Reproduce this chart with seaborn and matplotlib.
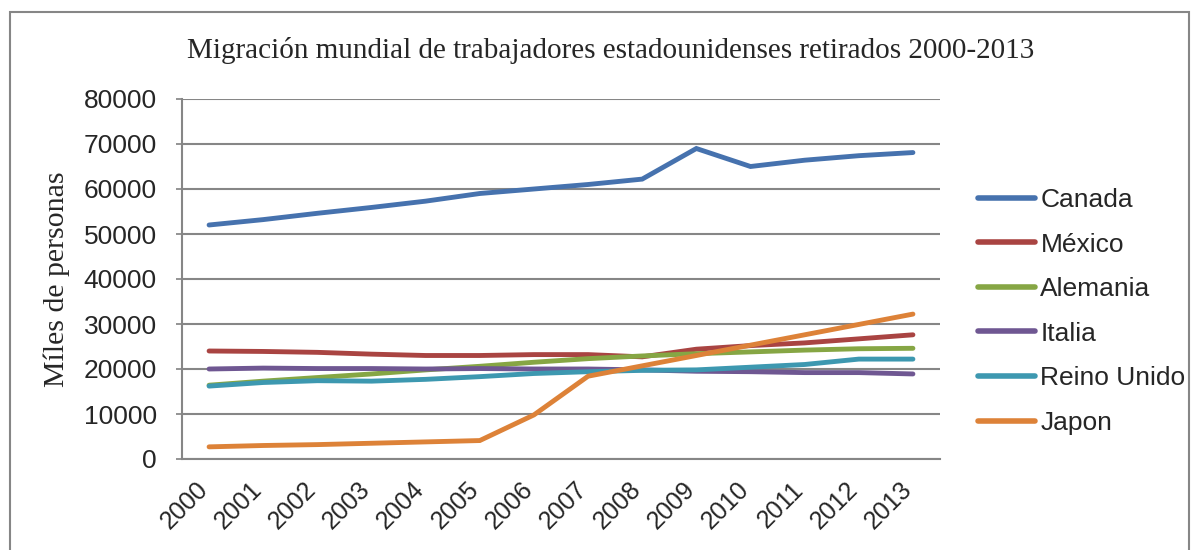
import matplotlib
matplotlib.use("Agg")
import matplotlib.pyplot as plt
import seaborn as sns
import pandas as pd
from matplotlib.patches import Rectangle

years = [2000, 2001, 2002, 2003, 2004, 2005, 2006, 2007, 2008, 2009, 2010, 2011, 2012, 2013]
canada = [52000, 53200, 54600, 55900, 57300, 59000, 60000, 61000, 62200, 69000, 65000, 66400, 67400, 68100]
mexico = [24000, 23900, 23700, 23300, 23000, 23000, 23200, 23200, 22700, 24400, 25200, 25800, 26700, 27600]
alemania = [16400, 17300, 18100, 18900, 19800, 20600, 21500, 22300, 22900, 23400, 23800, 24200, 24500, 24600]
italia = [20000, 20200, 20100, 20100, 20000, 20100, 20000, 20000, 19800, 19500, 19400, 19200, 19200, 18900]
reino_unido = [16200, 17000, 17400, 17300, 17700, 18300, 19000, 19400, 19700, 19800, 20400, 21000, 22200, 22200]
japon = [2700, 3000, 3200, 3500, 3800, 4100, 9800, 18400, 20700, 23000, 25300, 27600, 29900, 32200]

series_names = ["Canada", "México", "Alemania", "Italia", "Reino Unido", "Japon"]
series_values = [canada, mexico, alemania, italia, reino_unido, japon]
colors = ["#4672AE", "#A94442", "#86A644", "#6F5792", "#3D98B0", "#DD8238"]

rows = []
for name, vals in zip(series_names, series_values):
    for y, v in zip(years, vals):
        rows.append({"Año": y, "Valor": v, "País": name})
df = pd.DataFrame(rows)

sns.set_theme(style="white")
plt.rcParams["font.family"] = ["Liberation Sans", "DejaVu Sans"]

fig = plt.figure(figsize=(11.99, 5.5), dpi=100)
ax = fig.add_axes([182 / 1199, 91 / 550, (940 - 182) / 1199, (459 - 99) / 550])

sns.lineplot(data=df, x="Año", y="Valor", hue="País", hue_order=series_names,
             palette=colors, linewidth=3.5, ax=ax, sort=False)
for line in ax.get_lines():
    line.set_solid_capstyle("round")
    line.set_solid_joinstyle("miter")

ax.set_xlim(1999.5, 2013.5)
ax.set_ylim(0, 80000)
ax.set_yticks(range(0, 80001, 10000))
ax.set_xticks(years)
ax.set_xticklabels([str(y) for y in years], rotation=45, ha="right", va="baseline",
                   rotation_mode="anchor", fontsize=18)
ax.tick_params(axis="y", labelsize=19, pad=14, length=4, color="#868686", left=True)
ax.tick_params(axis="x", pad=23, length=0)
ax.grid(axis="y", color="#868686", linewidth=1.5)
ax.set_axisbelow(True)
for s in ["top", "right"]:
    ax.spines[s].set_visible(False)
for s in ["left", "bottom"]:
    ax.spines[s].set_color("#868686")
    ax.spines[s].set_linewidth(1.5)

ax.set_xlabel("")
ax.set_ylabel("Míles de personas", fontsize=21.5, family=["Liberation Serif", "DejaVu Serif"], labelpad=10)

fig.text(0.5096, 0.909, "Migración mundial de trabajadores estadounidenses retirados 2000-2013",
         ha="center", va="center", fontsize=21, family=["Liberation Serif", "DejaVu Serif"])

handles, labels = ax.get_legend_handles_labels()
for h in handles:
    h.set_linewidth(4)
    h.set_solid_capstyle("round")
ax.legend(handles, labels, loc="center left", bbox_to_anchor=(1.019, 0.41), frameon=False,
          fontsize=19, handlelength=2.16, handletextpad=0.2, labelspacing=0.78)

fig.patches.append(Rectangle((10 / 1199, -0.05), (1189 - 10) / 1199, 1.05 - 12 / 550,
                             transform=fig.transFigure, fill=False, edgecolor="#868686",
                             linewidth=1.5))

fig.savefig("out.png", dpi=100)
